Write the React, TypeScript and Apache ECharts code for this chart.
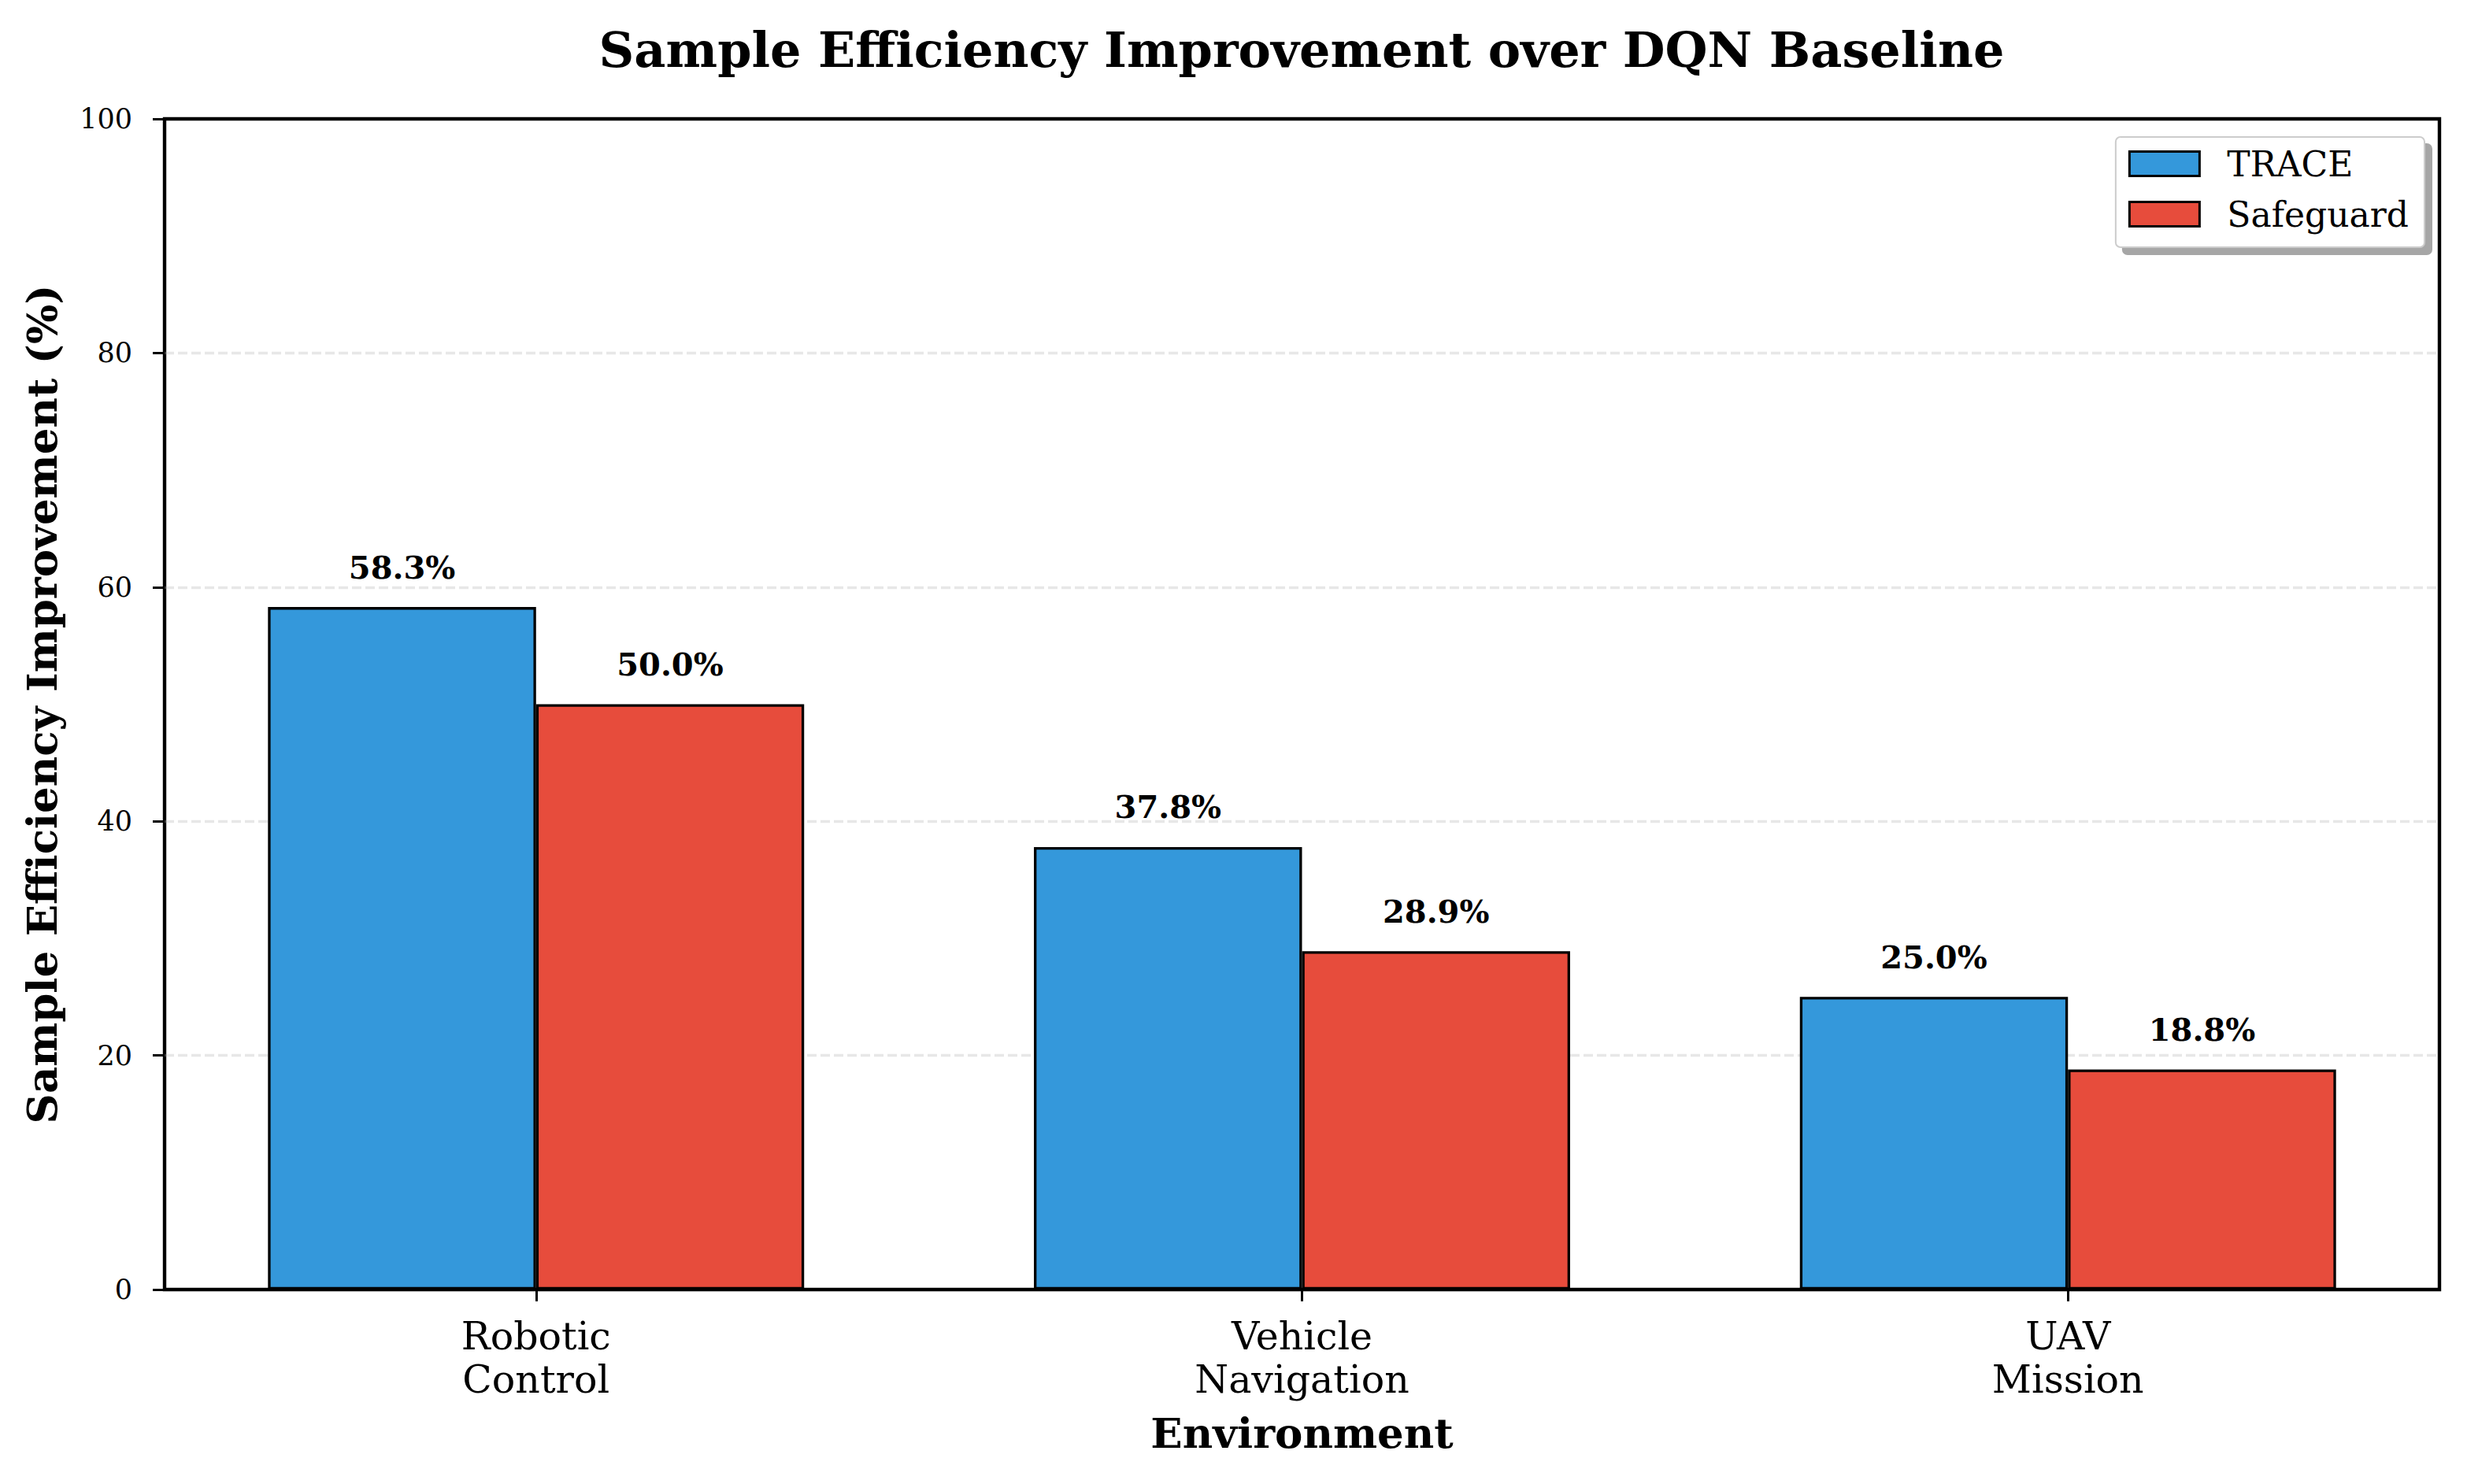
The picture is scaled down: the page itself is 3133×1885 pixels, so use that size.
import React, { useEffect, useRef } from "react";
import * as echarts from "echarts";

const categories = ["Robotic\nControl", "Vehicle\nNavigation", "UAV\nMission"];
const categoryPositions = [0, 1, 2];
const traceValues = [58.3, 37.8, 25.0];
const safeguardValues = [50.0, 28.9, 18.8];
const seriesNames = ["TRACE", "Safeguard"];
const seriesColors = ["#3498db", "#e74c3c"];
const yMin = 0;
const yMax = 100;
const yStep = 20;
const xMin = -0.485;
const xMax = 2.485;

const FONT = "DejaVu Serif";

export default function App() {
  const ref = useRef<HTMLDivElement>(null);
  useEffect(() => {
    if (!ref.current) return;
    const chart = echarts.init(ref.current, undefined, { renderer: "svg" });
    const makeSeries = (name: string, values: number[], color: string) => ({
      name,
      type: "bar",
      data: categoryPositions.map((x, i) => [x, values[i]]),
      barWidth: "35%",
      barGap: "0%",
      itemStyle: { color, borderColor: "#000", borderWidth: 3.3 },
      label: {
        show: true,
        position: "top",
        distance: 31,
        formatter: (p: any) => Number(p.value[1]).toFixed(1) + "%",
        fontFamily: FONT,
        fontWeight: "bold",
        fontSize: 40,
        color: "#000",
      },
    });
    chart.setOption({
      animation: false,
      backgroundColor: "#fff",
      title: {
        text: "Sample Efficiency Improvement over DQN Baseline",
        left: 1653,
        textAlign: "center",
        top: 32,
        padding: 0,
        textStyle: {
          fontFamily: FONT,
          fontWeight: "bold",
          fontSize: 62,
          lineHeight: 62,
          color: "#000",
        },
      },
      legend: {
        orient: "vertical",
        right: 54,
        top: 174,
        padding: [12, 20, 20, 16],
        itemWidth: 89,
        itemHeight: 31,
        itemGap: 20,
        icon: "rect",
        backgroundColor: "#fff",
        borderColor: "#cccccc",
        borderWidth: 2,
        borderRadius: 6,
        shadowColor: "#a6a6a6",
        shadowBlur: 0,
        shadowOffsetX: 9,
        shadowOffsetY: 9,
        itemStyle: { borderColor: "#000", borderWidth: 3 },
        textStyle: {
          fontFamily: FONT,
          fontSize: 44,
          lineHeight: 44,
          color: "#000",
          padding: [0, 0, 0, 30],
        },
        data: seriesNames,
      },
      grid: {
        left: 209,
        right: 35,
        top: 151,
        bottom: 247,
        show: true,
        borderColor: "#000",
        borderWidth: 4.4,
        backgroundColor: "transparent",
        containLabel: false,
      },
      xAxis: {
        type: "value",
        min: xMin,
        max: xMax,
        name: "Environment",
        nameLocation: "middle",
        nameGap: 155,
        nameTextStyle: {
          fontFamily: FONT,
          fontWeight: "bold",
          fontSize: 53,
          lineHeight: 53,
          color: "#000",
        },
        axisLine: { show: false, onZero: false },
        splitLine: { show: false },
        axisTick: {
          show: true,
          length: 15,
          lineStyle: { color: "#000", width: 3 },
          customValues: categoryPositions,
        },
        axisLabel: {
          customValues: categoryPositions,
          formatter: (v: number) => categories[Math.round(v)] ?? "",
          fontFamily: FONT,
          fontSize: 49,
          lineHeight: 55,
          color: "#000",
          margin: 32,
        },
      },
      yAxis: {
        type: "value",
        min: yMin,
        max: yMax,
        interval: yStep,
        name: "Sample Efficiency Improvement (%)",
        nameLocation: "middle",
        nameGap: 130,
        nameTextStyle: {
          fontFamily: FONT,
          fontWeight: "bold",
          fontSize: 53,
          lineHeight: 53,
          color: "#000",
        },
        axisLine: { show: false, onZero: false },
        axisTick: {
          show: true,
          length: 15,
          lineStyle: { color: "#000", width: 3 },
        },
        axisLabel: {
          fontFamily: FONT,
          fontSize: 35,
          color: "#000",
          margin: 41,
        },
        splitLine: {
          show: true,
          showMinLine: false,
          showMaxLine: false,
          lineStyle: {
            color: "#b0b0b0",
            opacity: 0.3,
            type: [12, 5],
            width: 3.3,
          },
        },
      },
      series: [
        makeSeries(seriesNames[0], traceValues, seriesColors[0]),
        makeSeries(seriesNames[1], safeguardValues, seriesColors[1]),
      ],
    });
    return () => chart.dispose();
  }, []);
  return (
    <div
      ref={ref}
      style={{ position: "absolute", left: 0, top: 0, width: 3133, height: 1885 }}
    />
  );
}
